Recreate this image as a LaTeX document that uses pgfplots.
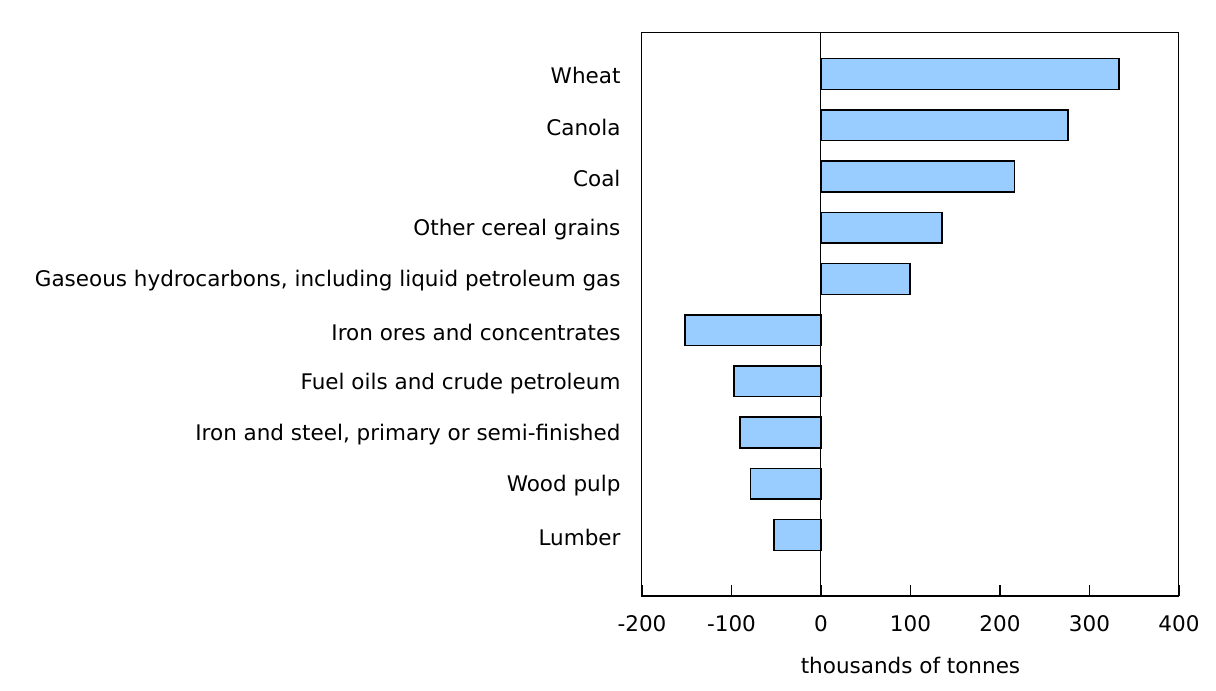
\documentclass[border=0pt]{standalone}
\usepackage{fontspec}
\setmainfont{DejaVu Sans}
\usepackage{pgfplots}
\pgfplotsset{compat=1.18}
\definecolor{barblue}{HTML}{99CCFF}

\begin{document}
\begin{tikzpicture}[x=1pt,y=1pt,font=\fontsize{21.5}{25}\selectfont]
\path[use as bounding box] (-642,-95) rectangle (574,596);
\begin{axis}[
    at={(0,0)}, anchor=south west,
    scale only axis,
    width=537pt, height=563pt,
    xbar, bar width=0.6,
    xmin=-200, xmax=400,
    ymin=-1.19, ymax=9.8,
    xtick={-200,-100,0,100,200,300,400},
    ytick={0,...,9},
    yticklabels={Lumber, Wood pulp, {Iron and steel, primary or semi-finished}, Fuel oils and crude petroleum, Iron ores and concentrates, {Gaseous hydrocarbons, including liquid petroleum gas}, Other cereal grains, Coal, Canola, Wheat},
    xtick align=inside,
    xtick pos=bottom,
    major tick length=11pt,
    ytick style={draw=none},
    xtick style={black, line width=1.5pt},
    axis line style={black, line width=1pt},
    xticklabel style={yshift=-16pt},
    yticklabel style={xshift=-7pt, yshift=-2pt},
    xlabel={thousands of tonnes},
    xlabel style={yshift=-19pt},
    /pgf/number format/assume math mode=true,
    clip=false,
]
\addplot[fill=barblue, draw=black, line width=1.5pt] coordinates {
    (-52.5,0) (-79,1) (-90.5,2) (-97,3) (-152,4)
    (99.5,5) (135,6) (216,7) (276,8) (333,9)
};
\draw[black, line width=1pt] (axis cs:0,-1.19) -- (axis cs:0,9.8);
\draw[black, line width=2.5pt] (rel axis cs:0,0) -- (rel axis cs:1,0);
\end{axis}
\end{tikzpicture}
\end{document}
